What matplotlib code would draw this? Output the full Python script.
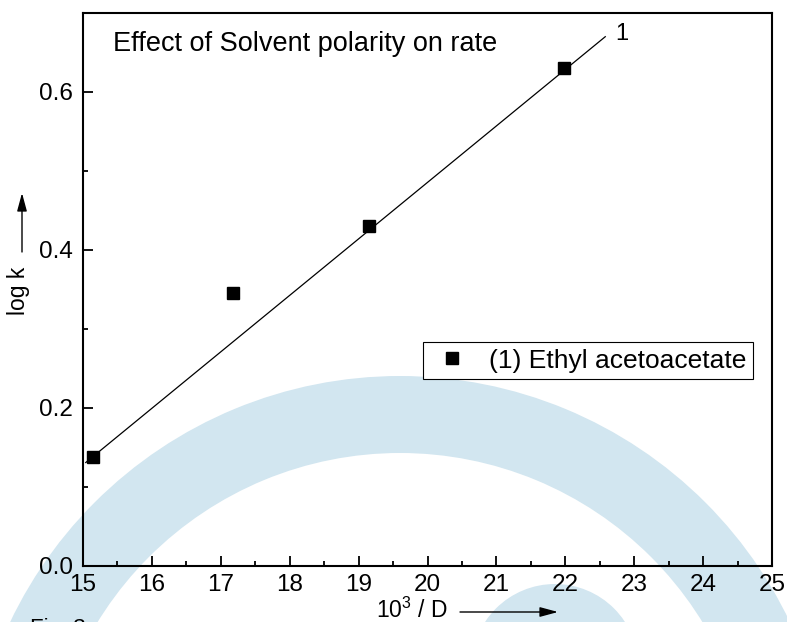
import matplotlib
matplotlib.use('Agg')
import matplotlib.pyplot as plt
from matplotlib.patches import Annulus, Circle
from matplotlib.ticker import MultipleLocator

plt.rcParams['font.family'] = ['Liberation Sans', 'DejaVu Sans']
plt.rcParams['mathtext.fontset'] = 'custom'
plt.rcParams['mathtext.rm'] = 'Liberation Sans'
plt.rcParams['mathtext.default'] = 'regular'

# data
x_pts = [15.15, 17.18, 19.155, 21.985]
y_pts = [0.138, 0.346, 0.430, 0.630]
fit_x = [15.04, 22.58]
fit_y = [0.131, 0.670]
series_label = '(1) Ethyl acetoacetate'
line_label = '1'
title = 'Effect of Solvent polarity on rate'

W, H = 787, 622


def px(x, y):
    # pixel position from top-left -> figure fraction
    return (x / W, 1 - y / H)


fig = plt.figure(figsize=(W / 100, H / 100), dpi=100)

# light blue watermark behind the plot
bg = fig.add_axes([0, 0, 1, 1], zorder=0)
bg.set_xlim(0, W)
bg.set_ylim(H, 0)
bg.axis('off')
wm = '#d2e6f0'
bg.add_patch(Annulus((400, 808), 432, 77, color=wm, lw=0))
bg.add_patch(Circle((555, 667.5), 83.5, color=wm, lw=0))

ax = fig.add_axes([83 / W, 56 / H, 689 / W, 553 / H], zorder=1)
ax.set_facecolor('none')

ax.plot(fit_x, fit_y, color='black', lw=0.9)
ax.plot(x_pts, y_pts, 's', color='black', ms=9, label=series_label)

ax.set_xlim(15, 25)
ax.set_ylim(0, 0.70)
ax.xaxis.set_major_locator(MultipleLocator(1))
ax.xaxis.set_minor_locator(MultipleLocator(0.5))
ax.yaxis.set_major_locator(MultipleLocator(0.2))
ax.yaxis.set_minor_locator(MultipleLocator(0.1))
ax.yaxis.set_major_formatter(matplotlib.ticker.FormatStrFormatter('%.1f'))
ax.tick_params(which='both', direction='in', top=False, right=False,
               width=1.3, labelsize=17.5)
ax.tick_params(which='major', length=7)
ax.tick_params(which='minor', length=3.5)
ax.tick_params(axis='x', pad=6)
ax.tick_params(axis='y', pad=7)
for s in ax.spines.values():
    s.set_linewidth(1.5)

ax.text(22.82, 0.674, line_label, fontsize=17, ha='center', va='center')

leg = ax.legend(loc='upper left', bbox_to_anchor=(0.4935, 0.405),
                borderaxespad=0, fontsize=19, fancybox=False,
                edgecolor='black', framealpha=1, borderpad=0.25,
                handlelength=1.7, handletextpad=0.55, numpoints=1)
leg.get_frame().set_linewidth(0.8)

fig.text(*px(113, 51), title, fontsize=19.5, ha='left', va='baseline')

# axis labels with arrows
fig.text(*px(19, 291), 'log k', fontsize=16.5, rotation=90,
         ha='center', va='center')
fig.text(*px(376, 618), '10$^3$ / D', fontsize=16.5, ha='left', va='baseline')
arrow = dict(arrowstyle='-|>,head_length=1.0,head_width=0.27',
             color='black', lw=1, mutation_scale=11, shrinkA=0, shrinkB=0)
ax.annotate('', xy=px(22, 193), xytext=px(22, 252),
            xycoords='figure fraction', arrowprops=arrow, annotation_clip=False)
ax.annotate('', xy=px(558, 612), xytext=px(460, 612),
            xycoords='figure fraction', arrowprops=arrow, annotation_clip=False)

fig.text(*px(30, 618), 'Fig. 3', fontsize=16, ha='left', va='top')

fig.savefig('out.png', dpi=100)
